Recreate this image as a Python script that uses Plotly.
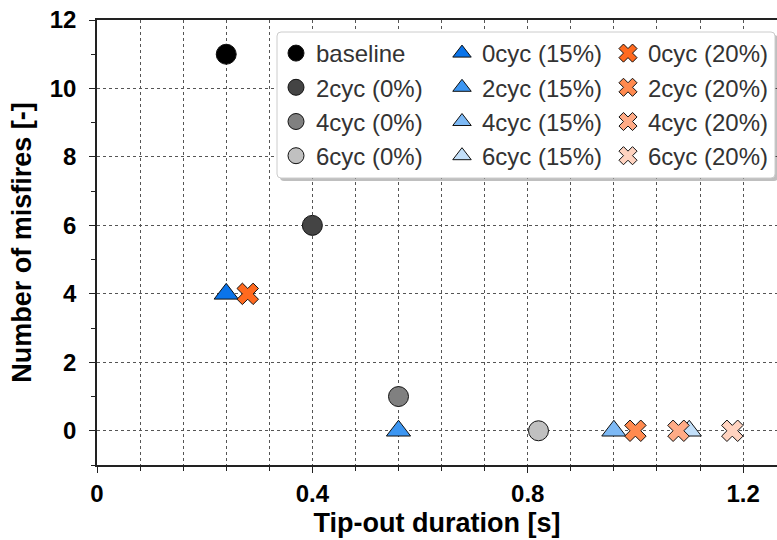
import plotly.graph_objects as go

# Tip-out duration [s] and misfire counts per calibration strategy
series_names = ["baseline", "2cyc (0%)", "4cyc (0%)", "6cyc (0%)",
                "0cyc (15%)", "2cyc (15%)", "4cyc (15%)", "6cyc (15%)",
                "0cyc (20%)", "2cyc (20%)", "4cyc (20%)", "6cyc (20%)"]
durations = [0.24, 0.40, 0.56, 0.82,
             0.24, 0.56, 0.96, 1.10,
             0.28, 1.00, 1.08, 1.18]
misfires = [11, 6, 1, 0,
            4, 0, 0, 0,
            4, 0, 0, 0]
colors = ["#000000", "#444444", "#808080", "#c0c0c0",
          "#0a74ea", "#3c96f2", "#7db9f5", "#c2dff9",
          "#ff6a1f", "#ff8a4f", "#ffab86", "#ffd3c0"]
symbols = ["circle"] * 4 + ["triangle-up"] * 4 + ["x"] * 4
legend_ids = ["legend"] * 4 + ["legend2"] * 4 + ["legend3"] * 4

x_ticks = [0, 0.4, 0.8, 1.2]
x_tick_text = ["0", "0.4", "0.8", "1.2"]
y_ticks = [0, 2, 4, 6, 8, 10, 12]

FONT = "Liberation Sans"

fig = go.Figure()
for i, name in enumerate(series_names):
    sym = symbols[i]
    size = {"circle": 20, "triangle-up": 21, "x": 19}[sym]
    fig.add_trace(go.Scatter(
        x=[durations[i]], y=[misfires[i]], mode="markers", name=name,
        legend=legend_ids[i], legendgroup=name,
        marker=dict(symbol=sym, size=size, color=colors[i],
                    line=dict(color="#111111", width=1)),
    ))

# pixel -> paper helpers for the legend frame (plot area 97..777 x 20..465)
L, R, T, B = 97, 777, 20, 465
def px(v):
    return (v - L) / (R - L)
def py(v):
    return (B - v) / (B - T)

def rounded_rect(x0, y0, x1, y1, r):
    return (f"M {px(x0 + r)},{py(y0)} L {px(x1 - r)},{py(y0)} "
            f"Q {px(x1)},{py(y0)} {px(x1)},{py(y0 + r)} "
            f"L {px(x1)},{py(y1 - r)} Q {px(x1)},{py(y1)} {px(x1 - r)},{py(y1)} "
            f"L {px(x0 + r)},{py(y1)} Q {px(x0)},{py(y1)} {px(x0)},{py(y1 - r)} "
            f"L {px(x0)},{py(y0 + r)} Q {px(x0)},{py(y0)} {px(x0 + r)},{py(y0)} Z")

shapes = [
    # drop shadow
    dict(type="path", xref="paper", yref="paper", layer="above",
         path=rounded_rect(280, 35, 778, 181, 4),
         fillcolor="rgba(0,0,0,0.25)", line=dict(width=0)),
    # frame
    dict(type="path", xref="paper", yref="paper", layer="above",
         path=rounded_rect(277, 32, 775, 178, 4),
         fillcolor="white", line=dict(color="#cccccc", width=1)),
]

legend_common = dict(
    orientation="v", yanchor="top", xanchor="left",
    bgcolor="rgba(0,0,0,0)", borderwidth=0,
    font=dict(size=24, color="#333333", family=FONT),
    tracegroupgap=0, itemsizing="trace",
)

tick_font = dict(size=24, family=FONT, color="#000000", weight=700)
title_font = dict(size=27, family=FONT, color="#000000", weight=700)

fig.update_layout(
    width=777, height=540,
    margin=dict(l=97, r=0, t=20, b=75),
    paper_bgcolor="white", plot_bgcolor="white",
    font=dict(family=FONT, color="#000000"),
    showlegend=True,
    shapes=shapes,
    legend=dict(x=px(276), y=py(31), **legend_common),
    legend2=dict(x=px(442), y=py(31), **legend_common),
    legend3=dict(x=px(608), y=py(31), **legend_common),
    xaxis=dict(
        range=[0, 1.263],
        tickmode="array", tickvals=x_ticks, ticktext=x_tick_text,
        showline=True, linecolor="#222222", linewidth=1.5, mirror=True,
        ticks="outside", ticklen=6, tickwidth=1, tickcolor="#222222",
        tickfont=tick_font,
        showgrid=True, gridcolor="#555555", griddash="dot", gridwidth=1,
        zeroline=False,
        minor=dict(dtick=0.08, tick0=0, ticks="outside", ticklen=4,
                   tickcolor="#222222", showgrid=True,
                   gridcolor="#555555", griddash="dot", gridwidth=1),
        title=dict(text="Tip-out duration [s]", standoff=8, font=title_font),
    ),
    yaxis=dict(
        range=[-1, 12],
        tickmode="array", tickvals=y_ticks, ticktext=[str(t) for t in y_ticks],
        showline=True, linecolor="#222222", linewidth=1.5,
        ticks="outside", ticklen=6, tickwidth=1, tickcolor="#222222",
        tickfont=tick_font, ticklabelstandoff=8,
        showgrid=True, gridcolor="#555555", griddash="dot", gridwidth=1,
        zeroline=False,
        minor=dict(dtick=1, tick0=0, ticks="outside", ticklen=4,
                   tickcolor="#222222", showgrid=False),
        title=dict(text="Number of misfires [-]", standoff=10, font=title_font),
    ),
)

fig.write_html("out.html")
